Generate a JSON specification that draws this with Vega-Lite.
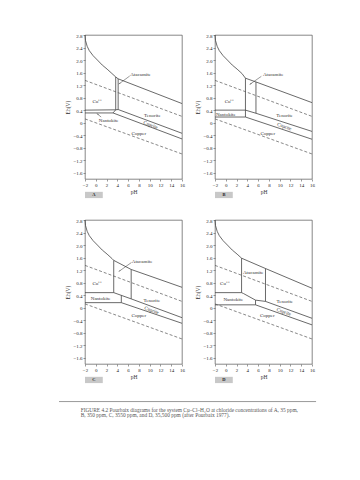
{
  "$schema": "https://vega.github.io/schema/vega-lite/v6.json",
  "background": "white",
  "padding": {"left": 58, "top": 31, "right": 5, "bottom": 5},
  "config": {
    "font": "Liberation Serif",
    "view": {"stroke": "#555", "strokeWidth": 0.7},
    "header": {"labelExpr": "''", "labelFontSize": 1, "labelPadding": 0, "titlePadding": 0, "title": null},
    "axis": {"grid": false, "domain": false, "tickSize": 2, "tickWidth": 0.6, "tickColor": "#555", "labelFontSize": 5, "labelColor": "#222", "titleFontSize": 5.5, "titleColor": "#333", "titleFontWeight": "normal", "labelPadding": 1, "titlePadding": 2, "labelFont": "Liberation Serif", "titleFont": "Liberation Serif", "labelOverlap": false, "labelFlush": false, "labelBound": false, "labelSeparation": 0}
  },
  "datasets": {
    "pd": [
      {"p":"A","k":"s","s":"A1","i":0,"pH":-2,"E":2.8},{"p":"A","k":"s","s":"A1","i":1,"pH":-1.9,"E":2.62},{"p":"A","k":"s","s":"A1","i":2,"pH":-1.6,"E":2.44},{"p":"A","k":"s","s":"A1","i":3,"pH":-1.2,"E":2.3},{"p":"A","k":"s","s":"A1","i":4,"pH":-0.5,"E":2.14},{"p":"A","k":"s","s":"A1","i":5,"pH":0.3,"E":2.0},{"p":"A","k":"s","s":"A1","i":6,"pH":1.2,"E":1.84},{"p":"A","k":"s","s":"A1","i":7,"pH":2.1,"E":1.71},{"p":"A","k":"s","s":"A1","i":8,"pH":3.0,"E":1.57},{"p":"A","k":"s","s":"A1","i":9,"pH":3.7,"E":1.46},{"p":"A","k":"s","s":"A1","i":10,"pH":4.15,"E":1.4},{"p":"A","k":"s","s":"A1","i":11,"pH":16,"E":0.61},
      {"p":"A","k":"s","s":"A2","i":0,"pH":3.7,"E":1.46},{"p":"A","k":"s","s":"A2","i":1,"pH":3.7,"E":0.41},
      {"p":"A","k":"s","s":"A3","i":0,"pH":4.15,"E":1.4},{"p":"A","k":"s","s":"A3","i":1,"pH":4.15,"E":0.42},
      {"p":"A","k":"s","s":"A4","i":0,"pH":-2,"E":0.4},{"p":"A","k":"s","s":"A4","i":1,"pH":3.7,"E":0.41},{"p":"A","k":"s","s":"A4","i":2,"pH":4.15,"E":0.42},{"p":"A","k":"s","s":"A4","i":3,"pH":16,"E":-0.34},
      {"p":"A","k":"s","s":"A5","i":0,"pH":-2,"E":0.31},{"p":"A","k":"s","s":"A5","i":1,"pH":3.2,"E":0.31},{"p":"A","k":"s","s":"A5","i":2,"pH":16,"E":-0.52},
      {"p":"A","k":"s","s":"A6","i":0,"pH":3.2,"E":0.31},{"p":"A","k":"s","s":"A6","i":1,"pH":3.7,"E":0.41},
      {"p":"A","k":"d","s":"A7","i":0,"pH":-2,"E":1.35},{"p":"A","k":"d","s":"A7","i":1,"pH":16,"E":0.2},
      {"p":"A","k":"d","s":"A8","i":0,"pH":-2,"E":0.12},{"p":"A","k":"d","s":"A8","i":1,"pH":16,"E":-1.0},
      {"p":"A","k":"t","t":"Atacamite","pH":8.3,"E":1.55},{"p":"A","k":"t","t":"Cu⁺⁺","pH":0.3,"E":0.69},{"p":"A","k":"t","t":"Nantokite","pH":2.4,"E":0.08},{"p":"A","k":"t","t":"Tenorite","pH":10.5,"E":0.24},{"p":"A","k":"t","t":"Copper","pH":8.0,"E":-0.33},{"p":"A","k":"r","t":"Cuprite","pH":10.2,"E":-0.06},
      {"p":"A","k":"a","s":"at","pH":6.3,"E":1.49,"pH2":4.4,"E2":1.25},{"p":"A","k":"a","s":"na","pH":1.0,"E":0.18,"pH2":0.35,"E2":0.27},
      {"p":"A","k":"b"},

      {"p":"B","k":"s","s":"B1","i":0,"pH":-2,"E":2.8},{"p":"B","k":"s","s":"B1","i":1,"pH":-1.9,"E":2.62},{"p":"B","k":"s","s":"B1","i":2,"pH":-1.6,"E":2.44},{"p":"B","k":"s","s":"B1","i":3,"pH":-1.2,"E":2.3},{"p":"B","k":"s","s":"B1","i":4,"pH":-0.5,"E":2.14},{"p":"B","k":"s","s":"B1","i":5,"pH":0.3,"E":2.0},{"p":"B","k":"s","s":"B1","i":6,"pH":1.2,"E":1.84},{"p":"B","k":"s","s":"B1","i":7,"pH":2.1,"E":1.71},{"p":"B","k":"s","s":"B1","i":8,"pH":3.0,"E":1.57},{"p":"B","k":"s","s":"B1","i":9,"pH":3.65,"E":1.42},{"p":"B","k":"s","s":"B1","i":10,"pH":5.6,"E":1.3},{"p":"B","k":"s","s":"B1","i":11,"pH":16,"E":0.64},
      {"p":"B","k":"s","s":"B2","i":0,"pH":3.65,"E":1.42},{"p":"B","k":"s","s":"B2","i":1,"pH":3.65,"E":0.18},
      {"p":"B","k":"s","s":"B3","i":0,"pH":5.6,"E":1.3},{"p":"B","k":"s","s":"B3","i":1,"pH":5.6,"E":0.3},
      {"p":"B","k":"s","s":"B4","i":0,"pH":-2,"E":0.4},{"p":"B","k":"s","s":"B4","i":1,"pH":3.65,"E":0.4},{"p":"B","k":"s","s":"B4","i":2,"pH":5.6,"E":0.3},{"p":"B","k":"s","s":"B4","i":3,"pH":16,"E":-0.28},
      {"p":"B","k":"s","s":"B5","i":0,"pH":-2,"E":0.18},{"p":"B","k":"s","s":"B5","i":1,"pH":3.65,"E":0.18},{"p":"B","k":"s","s":"B5","i":2,"pH":16,"E":-0.53},
      {"p":"B","k":"d","s":"B7","i":0,"pH":-2,"E":1.35},{"p":"B","k":"d","s":"B7","i":1,"pH":16,"E":0.2},
      {"p":"B","k":"d","s":"B8","i":0,"pH":-2,"E":0.12},{"p":"B","k":"d","s":"B8","i":1,"pH":16,"E":-1.0},
      {"p":"B","k":"t","t":"Atacamite","pH":8.8,"E":1.55},{"p":"B","k":"t","t":"Cu⁺⁺","pH":0.7,"E":0.69},{"p":"B","k":"t","t":"Nantokite","pH":0.0,"E":0.29},{"p":"B","k":"t","t":"Tenorite","pH":10.9,"E":0.24},{"p":"B","k":"t","t":"Copper","pH":7.8,"E":-0.32},{"p":"B","k":"r","t":"Cuprite","pH":10.9,"E":-0.11},
      {"p":"B","k":"a","s":"at","pH":6.6,"E":1.48,"pH2":4.6,"E2":1.24},
      {"p":"B","k":"b"},

      {"p":"C","k":"s","s":"C1","i":0,"pH":-2,"E":2.8},{"p":"C","k":"s","s":"C1","i":1,"pH":-1.9,"E":2.62},{"p":"C","k":"s","s":"C1","i":2,"pH":-1.6,"E":2.44},{"p":"C","k":"s","s":"C1","i":3,"pH":-1.2,"E":2.3},{"p":"C","k":"s","s":"C1","i":4,"pH":-0.5,"E":2.14},{"p":"C","k":"s","s":"C1","i":5,"pH":0.3,"E":2.0},{"p":"C","k":"s","s":"C1","i":6,"pH":1.2,"E":1.84},{"p":"C","k":"s","s":"C1","i":7,"pH":2.1,"E":1.71},{"p":"C","k":"s","s":"C1","i":8,"pH":3.0,"E":1.57},{"p":"C","k":"s","s":"C1","i":9,"pH":3.33,"E":1.51},{"p":"C","k":"s","s":"C1","i":10,"pH":6.57,"E":1.22},{"p":"C","k":"s","s":"C1","i":11,"pH":16,"E":0.65},
      {"p":"C","k":"s","s":"C2","i":0,"pH":3.33,"E":1.51},{"p":"C","k":"s","s":"C2","i":1,"pH":3.33,"E":0.48},
      {"p":"C","k":"s","s":"C3","i":0,"pH":6.57,"E":1.22},{"p":"C","k":"s","s":"C3","i":1,"pH":6.57,"E":0.28},
      {"p":"C","k":"s","s":"C4","i":0,"pH":-2,"E":0.48},{"p":"C","k":"s","s":"C4","i":1,"pH":3.33,"E":0.48},{"p":"C","k":"s","s":"C4","i":2,"pH":6.57,"E":0.28},{"p":"C","k":"s","s":"C4","i":3,"pH":16,"E":-0.32},
      {"p":"C","k":"s","s":"C5","i":0,"pH":-2,"E":0.16},{"p":"C","k":"s","s":"C5","i":1,"pH":4.74,"E":0.16},{"p":"C","k":"s","s":"C5","i":2,"pH":16,"E":-0.5},
      {"p":"C","k":"s","s":"C6","i":0,"pH":4.74,"E":0.39},{"p":"C","k":"s","s":"C6","i":1,"pH":4.74,"E":0.16},
      {"p":"C","k":"d","s":"C7","i":0,"pH":-2,"E":1.35},{"p":"C","k":"d","s":"C7","i":1,"pH":16,"E":0.2},
      {"p":"C","k":"d","s":"C8","i":0,"pH":-2,"E":0.12},{"p":"C","k":"d","s":"C8","i":1,"pH":16,"E":-1.0},
      {"p":"C","k":"t","t":"Atacamite","pH":8.6,"E":1.5},{"p":"C","k":"t","t":"Cu⁺⁺","pH":0.3,"E":0.78},{"p":"C","k":"t","t":"Nantokite","pH":0.9,"E":0.32},{"p":"C","k":"t","t":"Tenorite","pH":10.4,"E":0.25},{"p":"C","k":"t","t":"Copper","pH":8.0,"E":-0.25},{"p":"C","k":"r","t":"Cuprite","pH":10.4,"E":-0.07},
      {"p":"C","k":"a","s":"at","pH":6.6,"E":1.44,"pH2":4.4,"E2":1.17},
      {"p":"C","k":"b"},

      {"p":"D","k":"s","s":"D1","i":0,"pH":-2,"E":2.8},{"p":"D","k":"s","s":"D1","i":1,"pH":-1.9,"E":2.62},{"p":"D","k":"s","s":"D1","i":2,"pH":-1.6,"E":2.44},{"p":"D","k":"s","s":"D1","i":3,"pH":-1.2,"E":2.3},{"p":"D","k":"s","s":"D1","i":4,"pH":-0.5,"E":2.14},{"p":"D","k":"s","s":"D1","i":5,"pH":0.3,"E":2.0},{"p":"D","k":"s","s":"D1","i":6,"pH":1.2,"E":1.84},{"p":"D","k":"s","s":"D1","i":7,"pH":2.1,"E":1.71},{"p":"D","k":"s","s":"D1","i":8,"pH":2.93,"E":1.58},{"p":"D","k":"s","s":"D1","i":9,"pH":7.37,"E":1.25},{"p":"D","k":"s","s":"D1","i":10,"pH":16,"E":0.62},
      {"p":"D","k":"s","s":"D2","i":0,"pH":2.93,"E":1.58},{"p":"D","k":"s","s":"D2","i":1,"pH":2.93,"E":0.48},
      {"p":"D","k":"s","s":"D3","i":0,"pH":7.37,"E":1.25},{"p":"D","k":"s","s":"D3","i":1,"pH":7.37,"E":0.2},
      {"p":"D","k":"s","s":"D4","i":0,"pH":-2,"E":0.48},{"p":"D","k":"s","s":"D4","i":1,"pH":2.93,"E":0.48},{"p":"D","k":"s","s":"D4","i":2,"pH":3.3,"E":0.45},{"p":"D","k":"s","s":"D4","i":3,"pH":5.52,"E":0.24},{"p":"D","k":"s","s":"D4","i":4,"pH":7.37,"E":0.2},{"p":"D","k":"s","s":"D4","i":5,"pH":16,"E":-0.34},
      {"p":"D","k":"s","s":"D5","i":0,"pH":-2,"E":0.09},{"p":"D","k":"s","s":"D5","i":1,"pH":5.52,"E":0.09},{"p":"D","k":"s","s":"D5","i":2,"pH":16,"E":-0.55},
      {"p":"D","k":"s","s":"D6","i":0,"pH":5.52,"E":0.24},{"p":"D","k":"s","s":"D6","i":1,"pH":5.52,"E":0.09},
      {"p":"D","k":"d","s":"D7","i":0,"pH":-2,"E":1.35},{"p":"D","k":"d","s":"D7","i":1,"pH":16,"E":0.2},
      {"p":"D","k":"d","s":"D8","i":0,"pH":-2,"E":0.12},{"p":"D","k":"d","s":"D8","i":1,"pH":16,"E":-1.0},
      {"p":"D","k":"t","t":"Atacamite","pH":5.1,"E":1.13},{"p":"D","k":"t","t":"Cu⁺⁺","pH":-0.15,"E":0.78},{"p":"D","k":"t","t":"Nantokite","pH":1.4,"E":0.28},{"p":"D","k":"t","t":"Tenorite","pH":10.95,"E":0.22},{"p":"D","k":"t","t":"Copper","pH":7.7,"E":-0.25},{"p":"D","k":"r","t":"Cuprite","pH":10.8,"E":-0.12},
      {"p":"D","k":"b"}
    ],
    "cap": [
      {"line": 1, "text": "FIGURE 4.2   Pourbaix diagrams for the system Cu–Cl–H₂O at chloride concentrations of A, 35 ppm,"},
      {"line": 2, "text": "B, 350 ppm, C, 3550 ppm, and D, 35,500 ppm (after Pourbaix 1977)."}
    ]
  },
  "spacing": 16,
  "vconcat": [
    {
      "data": {"name": "pd"},
      "facet": {"field": "p", "type": "nominal", "header": {"labelExpr": "''", "labelFontSize": 1, "labelPadding": 0, "title": null}},
      "columns": 2,
      "spacing": {"row": 17, "column": 10},
      "resolve": {"axis": {"x": "independent", "y": "independent"}},
      "spec": {
        "width": 97,
        "height": 144,
        "layer": [
          {
            "transform": [{"filter": "datum.k == 's'"}],
            "mark": {"type": "line", "color": "#444", "strokeWidth": 0.8},
            "encoding": {
              "x": {"field": "pH", "type": "quantitative", "title": "pH", "scale": {"domain": [-2, 16], "nice": false, "zero": false}, "axis": {"values": [-2, 0, 2, 4, 6, 8, 10, 12, 14, 16], "tickCount": 30, "format": "d", "title": "pH", "labelOverlap": false}},
              "y": {"field": "E", "type": "quantitative", "title": "Eh(V)", "scale": {"domain": [-1.8, 2.8], "nice": false, "zero": false}, "axis": {"values": [-1.6, -1.2, -0.8, -0.4, 0, 0.4, 0.8, 1.2, 1.6, 2.0, 2.4, 2.8], "tickCount": 30, "labelExpr": "datum.value == 0 ? '0' : format(datum.value, '.1f')", "title": "Eh(V)", "labelOverlap": false}},
              "detail": {"field": "s"},
              "order": {"field": "i"}
            }
          },
          {
            "transform": [{"filter": "datum.k == 'd'"}],
            "mark": {"type": "line", "color": "#555", "strokeWidth": 0.7, "strokeDash": [3, 2]},
            "encoding": {
              "x": {"field": "pH", "type": "quantitative", "title": "pH"},
              "y": {"field": "E", "type": "quantitative", "title": "Eh(V)"},
              "detail": {"field": "s"},
              "order": {"field": "i"}
            }
          },
          {
            "transform": [{"filter": "datum.k == 't'"}],
            "mark": {"type": "text", "fontSize": 5, "color": "#333", "font": "Liberation Serif"},
            "encoding": {
              "x": {"field": "pH", "type": "quantitative", "title": "pH"},
              "y": {"field": "E", "type": "quantitative", "title": "Eh(V)"},
              "text": {"field": "t"}
            }
          },
          {
            "transform": [{"filter": "datum.k == 'r'"}],
            "mark": {"type": "text", "fontSize": 5, "color": "#333", "angle": 20, "font": "Liberation Serif"},
            "encoding": {
              "x": {"field": "pH", "type": "quantitative", "title": "pH"},
              "y": {"field": "E", "type": "quantitative", "title": "Eh(V)"},
              "text": {"field": "t"}
            }
          },
          {
            "transform": [{"filter": "datum.k == 'a'"}],
            "mark": {"type": "rule", "color": "#333", "strokeWidth": 0.5},
            "encoding": {
              "x": {"field": "pH", "type": "quantitative", "title": "pH"},
              "y": {"field": "E", "type": "quantitative", "title": "Eh(V)"},
              "x2": {"field": "pH2"},
              "y2": {"field": "E2"}
            }
          },
          {
            "transform": [{"filter": "datum.k == 'a' && datum.s == 'at'"}],
            "mark": {"type": "point", "shape": "wedge", "filled": true, "size": 10, "angle": 235, "color": "#333", "opacity": 1},
            "encoding": {
              "x": {"field": "pH2", "type": "quantitative", "title": "pH"},
              "y": {"field": "E2", "type": "quantitative", "title": "Eh(V)"}
            }
          },
          {
            "transform": [{"filter": "datum.k == 'a' && datum.s == 'na'"}],
            "mark": {"type": "point", "shape": "wedge", "filled": true, "size": 10, "angle": 309, "color": "#333", "opacity": 1},
            "encoding": {
              "x": {"field": "pH2", "type": "quantitative", "title": "pH"},
              "y": {"field": "E2", "type": "quantitative", "title": "Eh(V)"}
            }
          },
          {
            "transform": [{"filter": "datum.k == 'b'"}],
            "mark": {"type": "rect", "color": "#c8c8c8"},
            "encoding": {
              "x": {"datum": -2, "type": "quantitative", "title": "pH"},
              "x2": {"datum": 1.3},
              "y": {"datum": -2.21, "type": "quantitative", "title": "Eh(V)"},
              "y2": {"datum": -2.41}
            }
          },
          {
            "transform": [{"filter": "datum.k == 'b'"}],
            "mark": {"type": "text", "fontSize": 4.5, "color": "#222", "fontWeight": "bold", "font": "Liberation Serif"},
            "encoding": {
              "x": {"datum": -0.35, "type": "quantitative", "title": "pH"},
              "y": {"datum": -2.31, "type": "quantitative", "title": "Eh(V)"},
              "text": {"field": "p"}
            }
          }
        ]
      }
    },
    {
      "width": 257,
      "height": 18,
      "view": {"stroke": null},
      "data": {"name": "cap"},
      "layer": [
        {
          "mark": {"type": "rule", "color": "#999", "strokeWidth": 0.8},
          "encoding": {
            "x": {"datum": -0.101, "type": "quantitative", "scale": {"domain": [0, 1]}, "axis": null},
            "x2": {"datum": 0.899},
            "y": {"datum": -0.7, "type": "quantitative", "scale": {"domain": [-0.7, 2.3], "reverse": true}, "axis": null}
          }
        },
        {
          "mark": {"type": "text", "align": "left", "fontSize": 5.4, "color": "#555", "font": "Liberation Serif"},
          "encoding": {
            "x": {"datum": -0.017, "type": "quantitative", "axis": null},
            "y": {"field": "line", "type": "quantitative", "axis": null},
            "text": {"field": "text"}
          }
        }
      ]
    }
  ]
}
